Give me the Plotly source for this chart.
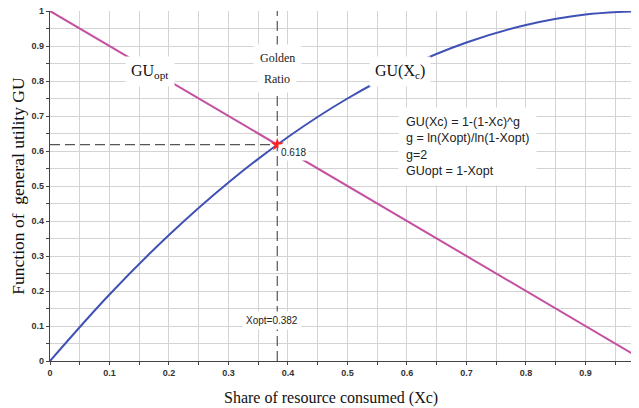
import plotly.graph_objects as go

# Data
xc = [0, 0.1, 0.2, 0.3, 0.4, 0.5, 0.6, 0.7, 0.8, 0.9, 1.0]
gu_xc = [0, 0.19, 0.36, 0.51, 0.64, 0.75, 0.84, 0.91, 0.96, 0.99, 1.0]
gu_opt_x = [0, 1]
gu_opt_y = [1, 0]
x_opt = 0.382
gu_opt = 0.618
x_ticks = [0, 0.1, 0.2, 0.3, 0.4, 0.5, 0.6, 0.7, 0.8, 0.9]
x_tick_labels = ["0", "0.1", "0.2", "0.3", "0.4", "0.5", "0.6", "0.7", "0.8", "0.9"]
y_ticks = [0, 0.1, 0.2, 0.3, 0.4, 0.5, 0.6, 0.7, 0.8, 0.9, 1]
y_tick_labels = ["0", "0.1", "0.2", "0.3", "0.4", "0.5", "0.6", "0.7", "0.8", "0.9", "1"]

BLUE = "#4051B5"
PINK = "#C4509F"
DASH = "#555555"
SERIF = "Liberation Serif, Times New Roman, serif"
SANS = "Liberation Sans, Arial, sans-serif"

fig = go.Figure()

# dashed guide lines
fig.add_trace(go.Scatter(x=[x_opt, x_opt], y=[0, 1], mode="lines",
                         line=dict(color=DASH, width=1.2, dash="10px,5px"),
                         hoverinfo="skip", showlegend=False))
fig.add_trace(go.Scatter(x=[0, x_opt], y=[gu_opt, gu_opt], mode="lines",
                         line=dict(color=DASH, width=1.2, dash="10px,5px"),
                         hoverinfo="skip", showlegend=False))

fig.add_trace(go.Scatter(x=gu_opt_x, y=gu_opt_y, mode="lines",
                         line=dict(color=PINK, width=2), showlegend=False))
fig.add_trace(go.Scatter(x=xc, y=gu_xc, mode="lines", line_shape="spline",
                         line=dict(color=BLUE, width=2), showlegend=False))
fig.add_trace(go.Scatter(x=[x_opt], y=[gu_opt], mode="markers",
                         marker=dict(symbol="star", color="#FF2020", size=10),
                         showlegend=False))

ann = [
    dict(x=0.168, y=0.826, text="GU<sub>opt</sub>", font=dict(family=SERIF, size=16, color="#111"),
         borderpad=5),
    dict(x=x_opt, y=0.866, text="Golden", font=dict(family=SERIF, size=12, color="#222"),
         borderpad=6),
    dict(x=x_opt, y=0.806, text="Ratio", font=dict(family=SERIF, size=12, color="#222"),
         borderpad=6),
    dict(x=0.588, y=0.826, text="GU(X<sub>c</sub>)", font=dict(family=SERIF, size=16, color="#111"),
         borderpad=5),
    dict(x=0.585, y=0.614, xanchor="left", align="left",
         text="GU(Xc) = 1-(1-Xc)^g<br>g = ln(Xopt)/ln(1-Xopt)<br>g=2<br>GUopt = 1-Xopt",
         font=dict(family=SANS, size=12.5, color="#222"), borderpad=7),
    dict(x=0.41, y=0.597, text="0.618", font=dict(family=SANS, size=10, color="#222"),
         borderpad=2),
    dict(x=0.373, y=0.117, text="Xopt=0.382", font=dict(family=SANS, size=10, color="#222"),
         borderpad=3),
]
for a in ann:
    a.update(xref="x", yref="y", showarrow=False, bgcolor="white")
# x-axis title placed as paper annotation to match its position
ann.append(dict(x=0.477, y=-0.105, xref="paper", yref="paper", yanchor="middle",
                showarrow=False, text="Share of resource consumed (Xc)",
                font=dict(family=SERIF, size=16, color="#111")))
fig.update_layout(annotations=ann)

axis_common = dict(
    showgrid=True, gridcolor="#D3D3D3", gridwidth=1,
    showline=True, linecolor="#444", linewidth=1.2,
    ticks="outside", ticklen=3, tickcolor="#444",
    tickfont=dict(family=SANS, size=9, color="#333", weight="bold"),
    zeroline=False, automargin=False, ticklabeloverflow="allow",
    minor=dict(dtick=0.05, showgrid=True, gridcolor="#D3D3D3", ticks="outside",
               ticklen=3, tickcolor="#444"),
)

fig.update_xaxes(range=[0, 0.99], tickvals=x_ticks, ticktext=x_tick_labels,
                 **axis_common)
fig.update_yaxes(range=[0, 1], tickvals=y_ticks, ticktext=y_tick_labels,
                 title=dict(text="Function of  general utility GU",
                            font=dict(family=SERIF, size=17.5, color="#111"), standoff=8),
                 **axis_common)

# page body has an 8px margin, so the figure is sized/offset to compensate
fig.update_layout(width=631, height=400, margin=dict(l=42, r=0, t=3, b=47),
                  plot_bgcolor="white", paper_bgcolor="white")

fig.write_html("out.html")
